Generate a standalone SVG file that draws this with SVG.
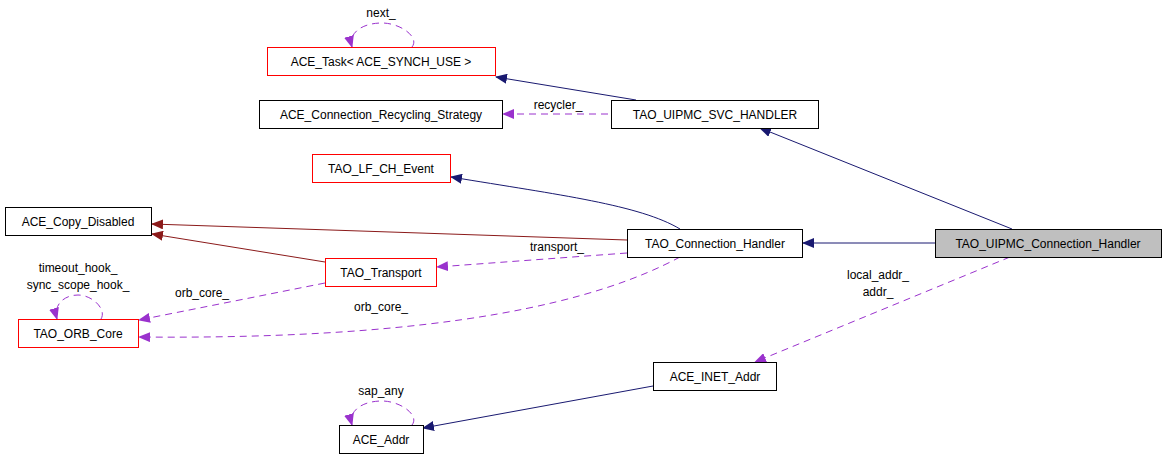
<svg xmlns="http://www.w3.org/2000/svg" width="1165" height="459" viewBox="0 0 1165 459">
<style>
text{font-family:"Liberation Sans",Arial,sans-serif;font-size:12px;fill:#000}
.n rect{fill:#fff;stroke:#000;stroke-width:1}
.r rect{stroke:#f00}
.c text{text-anchor:middle}
.nv{fill:none;stroke:#191970;stroke-width:1}
.fb{fill:none;stroke:#8b1a1a;stroke-width:1}
.pd{fill:none;stroke:#9a32cd;stroke-width:1;stroke-dasharray:7,5}
</style>
<defs>
<marker id="an" markerWidth="12" markerHeight="10" refX="11" refY="5" orient="auto" markerUnits="userSpaceOnUse"><path d="M0,0 L12,5 L0,10 Z" fill="#191970"/></marker>
<marker id="af" markerWidth="12" markerHeight="10" refX="11" refY="5" orient="auto" markerUnits="userSpaceOnUse"><path d="M0,0 L12,5 L0,10 Z" fill="#8b1a1a"/></marker>
<marker id="ap" markerWidth="12" markerHeight="10" refX="11" refY="5" orient="auto" markerUnits="userSpaceOnUse"><path d="M0,0 L12,5 L0,10 Z" fill="#9a32cd"/></marker>
</defs>
<g id="edges">
<path class="nv" d="M1012,229 L760,128" marker-end="url(#an)"/>
<path class="nv" d="M935,243 L803,243" marker-end="url(#an)"/>
<path class="nv" d="M636,100 L496,77" marker-end="url(#an)"/>
<path class="nv" d="M680,229 C640,205 560,195 451,177" marker-end="url(#an)"/>
<path class="nv" d="M653,386 L423,428" marker-end="url(#an)"/>
<path class="fb" d="M627,240 L152,224" marker-end="url(#af)"/>
<path class="fb" d="M325,262 L152,234" marker-end="url(#af)"/>
<path class="pd" d="M608,114 L503,114" marker-end="url(#ap)"/>
<path class="pd" d="M627,253 L437,267" marker-end="url(#ap)"/>
<path class="pd" d="M325,283 L139,320" marker-end="url(#ap)"/>
<path class="pd" d="M680,257 C600,300 450,340 139,337" marker-end="url(#ap)"/>
<path class="pd" d="M1010,257 L755,362" marker-end="url(#ap)"/>
<path class="pd" d="M412,47 C420,37 400,23 382,23 C362,23 348,33 352,47" marker-end="url(#ap)"/>
<path class="pd" d="M101,319 C107,309 92,295 78,295 C64,295 53,305 57,319" marker-end="url(#ap)"/>
<path class="pd" d="M412,425 C420,415 400,401 382,401 C362,401 348,411 352,425" marker-end="url(#ap)"/>
<g class="c">
<text x="381" y="17">next_</text>
<text x="558" y="109">recycler_</text>
<text x="557" y="251">transport_</text>
<text x="78" y="272">timeout_hook_</text>
<text x="78" y="289">sync_scope_hook_</text>
<text x="202" y="297">orb_core_</text>
<text x="381" y="311">orb_core_</text>
<text x="381" y="395">sap_any</text>
<text x="878" y="279">local_addr_</text>
<text x="878" y="296">addr_</text>
</g>
</g>
<g id="ace_task" class="n r c"><rect x="267.5" y="47.5" width="228" height="28"/><text x="381" y="66">ACE_Task&lt; ACE_SYNCH_USE &gt;</text></g>
<g id="recycling" class="n c"><rect x="259.5" y="100.5" width="243" height="28"/><text x="381" y="119">ACE_Connection_Recycling_Strategy</text></g>
<g id="lf_ch_event" class="n r c"><rect x="312.5" y="154.5" width="138" height="28"/><text x="381" y="173">TAO_LF_CH_Event</text></g>
<g id="copy_disabled" class="n c"><rect x="5.5" y="207.5" width="146" height="28"/><text x="78" y="226">ACE_Copy_Disabled</text></g>
<g id="transport" class="n r c"><rect x="325.5" y="258.5" width="111" height="28"/><text x="381" y="277">TAO_Transport</text></g>
<g id="orb_core" class="n r c"><rect x="18.5" y="319.5" width="120" height="28"/><text x="78" y="338">TAO_ORB_Core</text></g>
<g id="ace_addr" class="n c"><rect x="339.5" y="425.5" width="84" height="28"/><text x="381" y="444">ACE_Addr</text></g>
<g id="svc_handler" class="n c"><rect x="611.5" y="100.5" width="207" height="28"/><text x="715" y="119">TAO_UIPMC_SVC_HANDLER</text></g>
<g id="conn_handler" class="n c"><rect x="627.5" y="229.5" width="175" height="28"/><text x="715" y="248">TAO_Connection_Handler</text></g>
<g id="uipmc_ch" class="n c"><rect x="935.5" y="229.5" width="226" height="28" style="fill:#bfbfbf"/><text x="1048" y="248">TAO_UIPMC_Connection_Handler</text></g>
<g id="inet_addr" class="n c"><rect x="653.5" y="362.5" width="123" height="28"/><text x="715" y="381">ACE_INET_Addr</text></g>
</svg>
